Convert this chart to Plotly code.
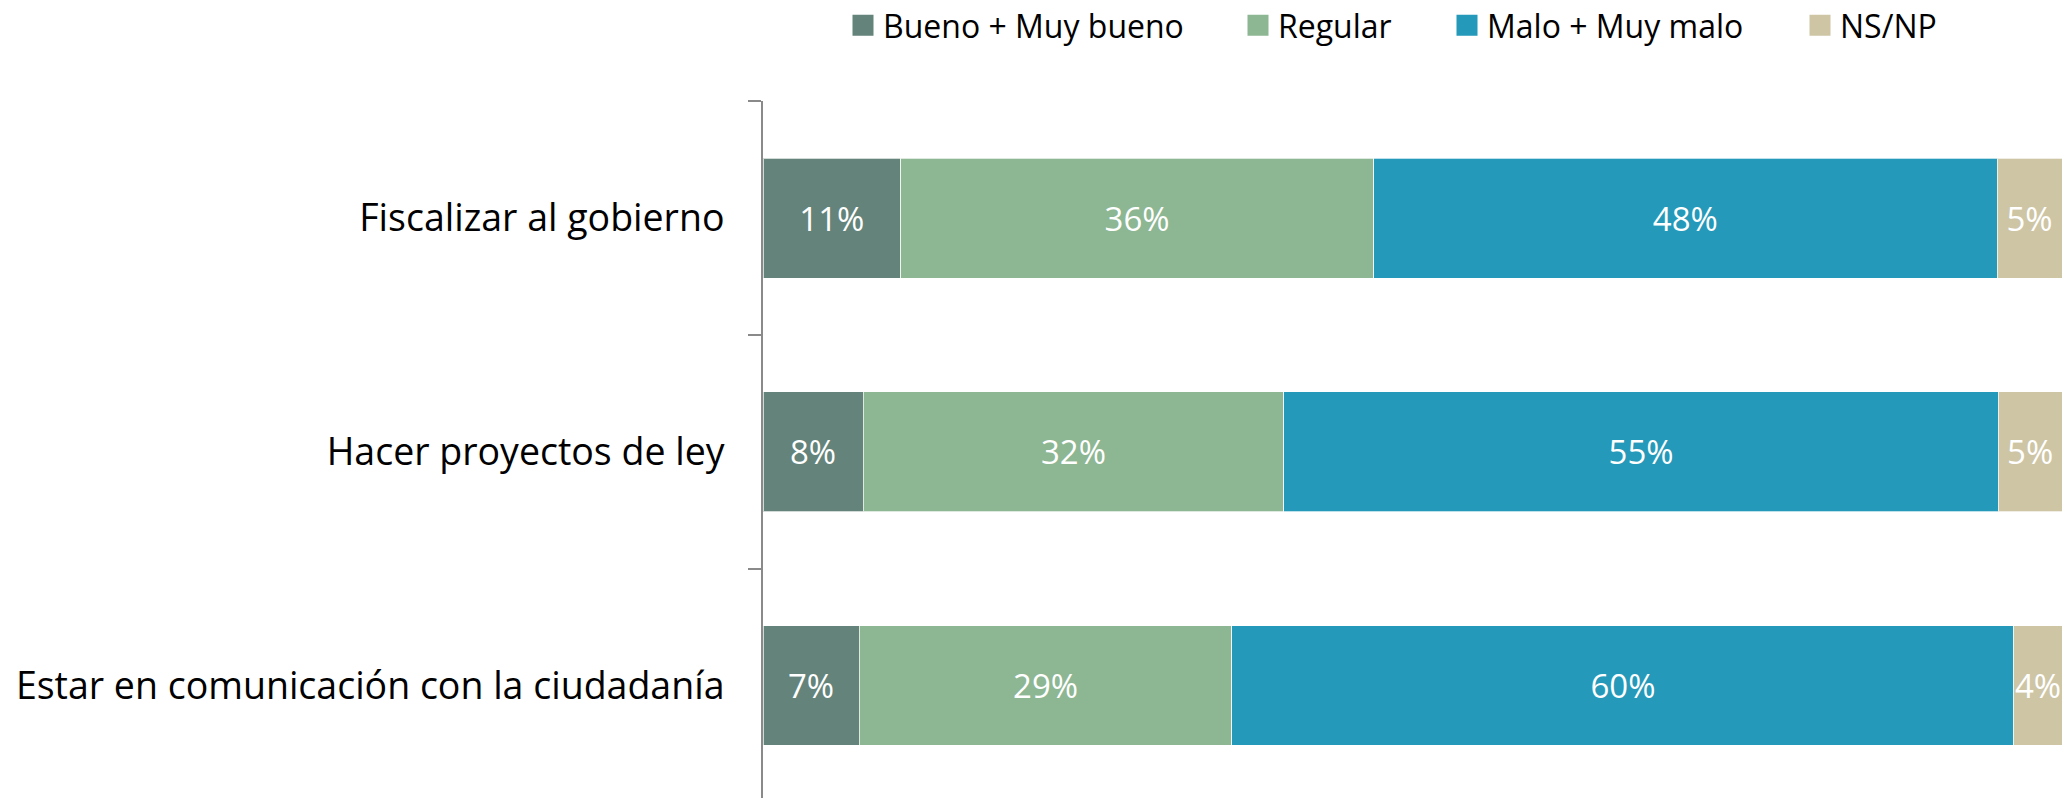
import plotly.graph_objects as go

categories = ["Fiscalizar al gobierno", "Hacer proyectos de ley", "Estar en comunicación con la ciudadanía"]
series_names = ["Bueno + Muy bueno", "Regular", "Malo + Muy malo", "NS/NP"]
bueno = [10.6, 7.7, 7.4]
regular = [36.4, 32.4, 28.7]
malo = [48.0, 55.0, 60.2]
nsnp = [5.0, 4.9, 3.7]
colors = ["#64837B", "#8DB693", "#2499B9", "#CEC5A5"]

W, H = 2062, 798
FONT = "Open Sans"

fig = go.Figure()
values = [bueno, regular, malo, nsnp]
legend_ids = ["legend", "legend2", "legend3", "legend4"]
for name, vals, col, lg in zip(series_names, values, colors, legend_ids):
    fig.add_trace(go.Bar(
        y=categories, x=vals, orientation="h", name=name,
        marker=dict(color=col, line=dict(color="rgba(255,255,255,0.7)", width=1)),
        texttemplate="%{x:.0f}%", textposition="inside", insidetextanchor="middle",
        textangle=0, constraintext="none",
        textfont=dict(color="white", size=33, family=FONT),
        showlegend=False, hoverinfo="skip",
    ))
    # legend entry
    fig.add_trace(go.Scatter(
        x=[None], y=[None], mode="markers", name=name, legend=lg,
        marker=dict(symbol="square", size=16, color=col, line=dict(color=col, width=5)),
        showlegend=True,
    ))

legend_x = [843, 1238, 1447, 1800]
legend_common = dict(orientation="h", xref="container", yref="container", xanchor="left",
                     yanchor="middle", y=1 - 25.5 / H, bgcolor="rgba(0,0,0,0)",
                     maxheight=120,
                     font=dict(size=32, family=FONT, color="#000000"))
legends = {}
for lg, lx in zip(legend_ids, legend_x):
    legends[lg] = dict(x=lx / W, **legend_common)

fig.update_layout(
    width=W, height=H,
    barmode="stack", bargap=0.487,
    plot_bgcolor="white", paper_bgcolor="white",
    margin=dict(l=763, r=0, t=101, b=0, autoexpand=False),
    uniformtext=dict(minsize=33, mode="show"),
    hovermode=False,
    xaxis=dict(range=[0, 100], visible=False, fixedrange=True),
    yaxis=dict(
        type="category", categoryorder="array", categoryarray=categories,
        range=[2.482, -0.502], tickson="boundaries",
        showline=True, linecolor="#8A8A8A", linewidth=2,
        ticks="outside", ticklen=13, tickwidth=2, tickcolor="#8A8A8A",
        showgrid=False, zeroline=False, automargin=False, fixedrange=True,
        tickfont=dict(size=37.5, family=FONT, color="#000000"),
        ticklabelstandoff=29,
    ),
    **legends,
)

fig.write_html("out.html", config={"displayModeBar": False},
               post_script="document.body.style.margin='0';")
